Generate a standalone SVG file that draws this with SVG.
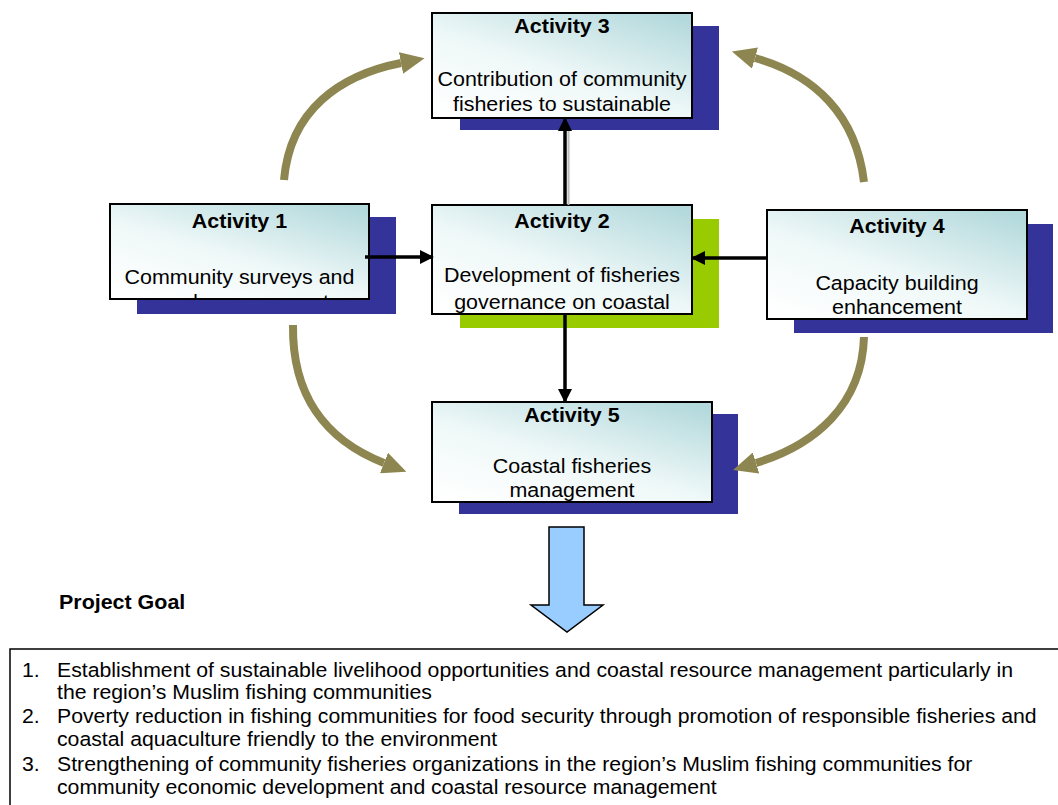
<svg xmlns="http://www.w3.org/2000/svg" width="1058" height="805" viewBox="0 0 1058 805">
<style>
  text { font-family: "Liberation Sans", Arial, sans-serif; font-size: 19.5px; fill: #000; }
  .t { font-weight: bold; text-anchor: middle; }
  .b { text-anchor: middle; }
  .box { stroke: #000; stroke-width: 2; fill: url(#g); }
  .sh { fill: #333399; }
  .shg { fill: #99CC00; }
  .ln { stroke: #000; stroke-width: 3.5; fill: none; marker-end: url(#blk); }
  .arc { stroke: #8E8650; stroke-width: 8; fill: none; marker-end: url(#ol); }
</style>
<defs>
  <linearGradient id="g" x1="0.1" y1="1" x2="0.9" y2="0">
    <stop offset="0" stop-color="#ffffff"/>
    <stop offset="0.45" stop-color="#eff8f8"/>
    <stop offset="1" stop-color="#b3d9dc"/>
  </linearGradient>
  <marker id="blk" viewBox="0 0 14 14" refX="13" refY="7" markerWidth="14" markerHeight="14" markerUnits="userSpaceOnUse" orient="auto">
    <path d="M0,0 L14,7 L0,14 z" fill="#000"/>
  </marker>
  <marker id="ol" viewBox="0 0 24 22" refX="0" refY="11" markerWidth="24" markerHeight="22" markerUnits="userSpaceOnUse" orient="auto">
    <path d="M0,0 L24,11 L0,22 z" fill="#8E8650"/>
  </marker>
  <clipPath id="c1"><rect x="110" y="204" width="259" height="95"/></clipPath>
  <clipPath id="c2"><rect x="432" y="205" width="260" height="109"/></clipPath>
  <clipPath id="c3"><rect x="432" y="13" width="260" height="105"/></clipPath>
  <clipPath id="c4"><rect x="767" y="210" width="260" height="109"/></clipPath>
  <clipPath id="c5"><rect x="432" y="402" width="280" height="100"/></clipPath>
</defs>
<rect width="1058" height="805" fill="#fff"/>

<g id="activity3">
  <rect class="sh" x="460" y="26" width="259" height="104"/>
  <rect class="box" x="432" y="13" width="260" height="105"/>
  <g clip-path="url(#c3)">
    <text class="t" transform="translate(562,33) scale(1.1,1)">Activity 3</text>
    <text class="b" transform="translate(562,86) scale(1.1,1)">Contribution of community</text>
    <text class="b" transform="translate(562,111) scale(1.1,1)">fisheries to sustainable</text>
  </g>
</g>

<g id="activity1">
  <rect class="sh" x="137" y="217" width="259" height="97"/>
  <rect class="box" x="110" y="204" width="259" height="95"/>
  <g clip-path="url(#c1)">
    <text class="t" transform="translate(239.5,228) scale(1.1,1)">Activity 1</text>
    <text class="b" transform="translate(239.5,284) scale(1.1,1)">Community surveys and</text>
    <text class="b" transform="translate(239.5,309) scale(1.1,1)">needs assessment</text>
  </g>
</g>

<g id="activity2">
  <rect class="shg" x="460" y="219" width="259" height="109"/>
  <rect class="box" x="432" y="205" width="260" height="109"/>
  <g clip-path="url(#c2)">
    <text class="t" transform="translate(562,228) scale(1.1,1)">Activity 2</text>
    <text class="b" transform="translate(562,282) scale(1.1,1)">Development of fisheries</text>
    <text class="b" transform="translate(562,309) scale(1.1,1)">governance on coastal</text>
  </g>
</g>

<g id="activity4">
  <rect class="sh" x="794" y="224" width="259" height="109"/>
  <rect class="box" x="767" y="210" width="260" height="109"/>
  <g clip-path="url(#c4)">
    <text class="t" transform="translate(897,233) scale(1.1,1)">Activity 4</text>
    <text class="b" transform="translate(897,290) scale(1.1,1)">Capacity building</text>
    <text class="b" transform="translate(897,314) scale(1.1,1)">enhancement</text>
  </g>
</g>

<g id="activity5">
  <rect class="sh" x="459" y="414" width="279" height="100"/>
  <rect class="box" x="432" y="402" width="280" height="100"/>
  <g clip-path="url(#c5)">
    <text class="t" transform="translate(572,422) scale(1.1,1)">Activity 5</text>
    <text class="b" transform="translate(572,473) scale(1.1,1)">Coastal fisheries</text>
    <text class="b" transform="translate(572,497) scale(1.1,1)">management</text>
  </g>
</g>

<g id="connectors">
  <line x1="568.5" y1="130" x2="568.5" y2="205" stroke="#bbbbbb" stroke-width="2"/>
  <line class="ln" x1="565" y1="205" x2="565" y2="118"/>
  <line class="ln" x1="365" y1="257" x2="433" y2="257"/>
  <line class="ln" x1="767" y1="258" x2="692" y2="258"/>
  <line class="ln" x1="565" y1="314" x2="565" y2="402"/>
  <path class="arc" d="M284,180 C290,110 340,75 401,63"/>
  <path class="arc" d="M864,182 C856,115 815,75 755,58"/>
  <path class="arc" d="M293,325 C292,395 325,440 384,463"/>
  <path class="arc" d="M864,337 C862,405 815,445 756,463"/>
</g>

<g id="goal-arrow">
  <polygon points="549,527 584,527 584,605 603,605 567,632 531,605 549,605" fill="#99CCFF" stroke="#000" stroke-width="1.5"/>
</g>

<g id="project-goal">
  <text font-weight="bold" transform="translate(59,609) scale(1.1,1)">Project Goal</text>
</g>

<g id="goal-box">
  <rect x="10" y="649" width="1060" height="180" fill="#fff" stroke="#000" stroke-width="1.5"/>
  <text transform="translate(22,677) scale(1.09,1)">1.</text>
  <text transform="translate(57,677) scale(1.09,1)">Establishment of sustainable livelihood opportunities and coastal resource management particularly in</text>
  <text transform="translate(57,699) scale(1.09,1)">the region’s Muslim fishing communities</text>
  <text transform="translate(22,723) scale(1.09,1)">2.</text>
  <text transform="translate(57,723) scale(1.09,1)">Poverty reduction in fishing communities for food security through promotion of responsible fisheries and</text>
  <text transform="translate(57,746) scale(1.09,1)">coastal aquaculture friendly to the environment</text>
  <text transform="translate(22,771) scale(1.09,1)">3.</text>
  <text transform="translate(57,771) scale(1.09,1)">Strengthening of community fisheries organizations in the region’s Muslim fishing communities for</text>
  <text transform="translate(57,794) scale(1.09,1)">community economic development and coastal resource management</text>
</g>
</svg>
